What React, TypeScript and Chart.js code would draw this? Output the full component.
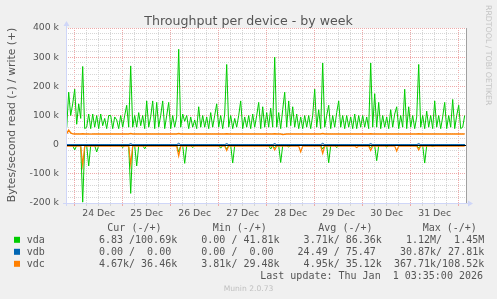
import { useEffect, useRef } from 'react';
import { Chart, registerables } from 'chart.js';

Chart.register(...registerables);

// ---- time axis (hours from 24 Dec 00:00) ----
const START_HOUR = -4;
const STEP_HOURS = 1;
const X_MIN = -4.35;
const X_MAX = 195.65;
const DAY_LABELS = ['24 Dec', '25 Dec', '26 Dec', '27 Dec', '28 Dec', '29 Dec', '30 Dec', '31 Dec'];

// ---- y axis (bytes/second) ----
const Y_MIN = -200000;
const Y_MAX = 400000;

// ---- series values, in kB/s, one per hour ----
const vdaWrite = [
  58, 180, 100, 140,
  190, 70, 140, 90, 268, 55, 60, 105, 55, 105, 60, 100, 55, 105, 65, 90, 55, 100, 100, 55, 95, 85, 55, 100,
  60, 100, 135, 60, 270, 60, 100, 60, 110, 65, 100, 55, 150, 60, 95, 150, 55, 145, 60, 100, 150, 55, 100, 145,
  55, 100, 60, 95, 327, 60, 105, 80, 100, 55, 95, 60, 85, 55, 130, 60, 100, 60, 95, 55, 110, 60, 100, 140,
  60, 100, 55, 105, 275, 60, 100, 55, 90, 60, 100, 150, 55, 95, 60, 100, 55, 105, 60, 100, 145, 55, 130, 60,
  110, 60, 125, 60, 300, 60, 110, 55, 120, 180, 60, 150, 65, 130, 60, 105, 55, 95, 55, 100, 60, 100, 55, 100,
  190, 60, 120, 55, 280, 60, 100, 135, 55, 100, 60, 110, 150, 60, 100, 55, 100, 60, 95, 55, 105, 55, 100, 60,
  100, 60, 95, 55, 280, 60, 175, 60, 145, 55, 100, 60, 95, 55, 120, 60, 105, 130, 55, 100, 60, 190, 55, 130,
  60, 100, 55, 95, 275, 60, 100, 55, 115, 60, 100, 55, 150, 60, 100, 55, 95, 145, 55, 100, 60, 155, 55, 100, 135, 55, 60, 100,
];
const vdaRead = [
  3, 3, 3, 3,
  18, 3, 3, 3, 197, 3, 3, 73, 3, 3, 3, 25, 3, 3, 3, 3, 3, 3, 3, 3, 3, 3, 3, 3,
  10, 3, 3, 3, 167, 3, 3, 73, 3, 3, 3, 14, 3, 3, 3, 3, 3, 3, 3, 3, 3, 3, 3, 3,
  3, 3, 3, 3, 25, 3, 3, 64, 3, 3, 3, 10, 3, 3, 3, 3, 3, 3, 3, 3, 3, 3, 3, 3,
  3, 12, 3, 3, 15, 3, 3, 63, 3, 3, 3, 3, 3, 3, 3, 3, 3, 3, 3, 3, 3, 3, 3, 3,
  3, 3, 15, 3, 10, 3, 3, 61, 3, 3, 3, 8, 3, 3, 3, 3, 3, 3, 3, 3, 3, 3, 3, 3,
  3, 3, 3, 3, 15, 3, 3, 62, 3, 3, 3, 10, 3, 3, 3, 3, 3, 3, 3, 3, 3, 3, 3, 3,
  3, 3, 3, 3, 10, 3, 3, 55, 3, 3, 3, 3, 8, 3, 3, 3, 3, 3, 3, 3, 3, 3, 3, 3,
  3, 3, 3, 3, 12, 3, 3, 63, 3, 3, 3, 6, 3, 3, 3, 3, 3, 3, 3, 3, 3, 3, 3, 3, 3, 3, 3, 0,
];
const vdbWrite = [
  0, 0, 0, 0,
  0, 0, 0, 0, 0, 0, 0, 0, 0, 0, 0, 0, 0, 0, 0, 0, 0, 0, 0, 0, 0, 0, 0, 0,
  0, 0, 0, 0, 4, 0, 0, 0, 0, 0, 0, 0, 0, 0, 0, 0, 0, 0, 0, 0, 0, 0, 0, 0,
  0, 0, 0, 0, 5, 0, 0, 0, 0, 0, 0, 0, 0, 0, 0, 0, 0, 0, 0, 0, 0, 0, 0, 0,
  0, 0, 0, 0, 4, 0, 0, 0, 0, 0, 0, 0, 0, 0, 0, 0, 0, 0, 0, 0, 0, 0, 0, 0,
  0, 0, 0, 0, 4, 0, 0, 0, 0, 0, 0, 0, 0, 0, 0, 0, 0, 0, 0, 0, 0, 0, 0, 0,
  0, 0, 0, 0, 5, 0, 0, 0, 0, 0, 0, 0, 0, 0, 0, 0, 0, 0, 0, 0, 0, 0, 0, 0,
  0, 0, 0, 0, 4, 0, 0, 0, 0, 0, 0, 0, 0, 0, 0, 0, 0, 0, 0, 0, 0, 0, 0, 0,
  0, 0, 0, 0, 4, 0, 0, 0, 0, 0, 0, 0, 0, 0, 0, 0, 0, 0, 0, 0, 0, 0, 0, 0, 0, 0, 0, 0,
];
const vdbRead = [
  0, 0, 0, 0,
  0, 0, 0, 0, 0, 0, 0, 0, 0, 0, 0, 0, 0, 0, 0, 0, 0, 0, 0, 0, 0, 0, 0, 0,
  0, 0, 0, 0, 2, 0, 0, 0, 0, 0, 0, 0, 0, 0, 0, 0, 0, 0, 0, 0, 0, 0, 0, 0,
  0, 0, 0, 0, 2, 0, 0, 0, 0, 0, 0, 0, 0, 0, 0, 0, 0, 0, 0, 0, 0, 0, 0, 0,
  0, 0, 0, 0, 2, 0, 0, 0, 0, 0, 0, 0, 0, 0, 0, 0, 0, 0, 0, 0, 0, 0, 0, 0,
  0, 0, 0, 0, 2, 0, 0, 0, 0, 0, 0, 0, 0, 0, 0, 0, 0, 0, 0, 0, 0, 0, 0, 0,
  0, 0, 0, 0, 2, 0, 0, 0, 0, 0, 0, 0, 0, 0, 0, 0, 0, 0, 0, 0, 0, 0, 0, 0,
  0, 0, 0, 0, 2, 0, 0, 0, 0, 0, 0, 0, 0, 0, 0, 0, 0, 0, 0, 0, 0, 0, 0, 0,
  0, 0, 0, 0, 2, 0, 0, 0, 0, 0, 0, 0, 0, 0, 0, 0, 0, 0, 0, 0, 0, 0, 0, 0, 0, 0, 0, 0,
];
const vdcWrite = [
  38, 50, 40, 37,
  36.5, 36.5, 37, 36.5, 37.5, 36.5, 36.5, 36.5, 36, 36.5, 36.5, 37, 36.5, 36.5, 36.5, 36.5, 37, 36.5, 36.5, 36.5, 36.5, 36.5, 36.5, 36.5,
  36.5, 36.5, 36.5, 36.5, 38, 36.5, 36.5, 36.5, 36.5, 36.5, 37, 36.5, 36.5, 36.5, 36.5, 36.5, 36.5, 36.5, 36.5, 37, 36.5, 36.5, 36.5, 36.5,
  36.5, 36.5, 36.5, 36.5, 38, 36.5, 36.5, 36.5, 36.5, 36.5, 36.5, 36.5, 36.5, 37, 36.5, 36.5, 36.5, 36.5, 36.5, 36.5, 36.5, 36.5, 36.5, 36.5,
  36.5, 36.5, 36.5, 36.5, 37.5, 36.5, 36.5, 36.5, 36.5, 36.5, 36.5, 36.5, 36.5, 36.5, 36.5, 36.5, 36.5, 36.5, 36.5, 36.5, 36.5, 36.5, 36.5, 36.5,
  36.5, 36.5, 36.5, 36.5, 37.5, 36.5, 36.5, 36.5, 35, 35.5, 36.5, 36.5, 36.5, 36.5, 36.5, 36.5, 36.5, 36.5, 36.5, 36.5, 36.5, 36.5, 36.5, 36.5,
  36.5, 36.5, 36.5, 36.5, 38, 36.5, 36.5, 36.5, 36.5, 36.5, 36.5, 36.5, 36.5, 36.5, 36.5, 36.5, 36.5, 36.5, 36.5, 36.5, 36.5, 36.5, 36.5, 36.5,
  36.5, 36.5, 36.5, 36.5, 37.5, 36.5, 36.5, 36.5, 36.5, 36.5, 36.5, 36.5, 36.5, 36.5, 36.5, 36.5, 36.5, 36.5, 36.5, 36.5, 36.5, 36.5, 36.5, 36.5,
  36.5, 36.5, 36.5, 36.5, 37.5, 36.5, 36.5, 36.5, 36.5, 36.5, 36.5, 36.5, 36.5, 36.5, 36.5, 36.5, 36.5, 36.5, 36.5, 36.5, 36.5, 36.5, 36.5, 36.5, 36.5, 36.5, 36.5, 36.5,
];
const vdcRead = [
  4.7, 4.7, 4.7, 4.7,
  4.7, 4.7, 4.7, 4.7, 70, 4.7, 4.7, 4.7, 4.7, 4.7, 4.7, 4.7, 4.7, 4.7, 4.7, 4.7, 4.7, 4.7, 4.7, 4.7, 4.7, 4.7, 4.7, 4.7,
  4.7, 4.7, 4.7, 4.7, 67, 4.7, 4.7, 4.7, 4.7, 4.7, 4.7, 4.7, 4.7, 4.7, 4.7, 4.7, 4.7, 4.7, 4.7, 4.7, 4.7, 4.7, 4.7, 4.7,
  4.7, 4.7, 4.7, 4.7, 39, 4.7, 4.7, 4.7, 4.7, 4.7, 4.7, 4.7, 4.7, 4.7, 4.7, 4.7, 4.7, 4.7, 4.7, 4.7, 4.7, 4.7, 4.7, 4.7,
  4.7, 4.7, 4.7, 4.7, 20, 4.7, 4.7, 4.7, 4.7, 4.7, 4.7, 4.7, 4.7, 4.7, 4.7, 4.7, 4.7, 4.7, 4.7, 4.7, 4.7, 4.7, 4.7, 4.7,
  4.7, 4.7, 4.7, 4.7, 18, 4.7, 4.7, 4.7, 4.7, 4.7, 4.7, 4.7, 4.7, 4.7, 4.7, 4.7, 4.7, 25, 4.7, 4.7, 4.7, 4.7, 4.7, 4.7,
  4.7, 4.7, 4.7, 4.7, 30, 4.7, 4.7, 4.7, 4.7, 4.7, 4.7, 4.7, 4.7, 4.7, 4.7, 4.7, 4.7, 4.7, 4.7, 4.7, 4.7, 10, 4.7, 4.7,
  4.7, 4.7, 4.7, 4.7, 20, 4.7, 4.7, 4.7, 4.7, 4.7, 4.7, 4.7, 4.7, 4.7, 4.7, 4.7, 4.7, 22, 4.7, 4.7, 4.7, 4.7, 4.7, 4.7,
  4.7, 4.7, 4.7, 4.7, 18, 4.7, 4.7, 4.7, 4.7, 4.7, 4.7, 4.7, 4.7, 4.7, 4.7, 4.7, 4.7, 4.7, 4.7, 4.7, 4.7, 4.7, 4.7, 4.7, 4.7, 4.7, 4.7, 4.7,
];

// ---- legend table ----
const SERIES_NAMES = ['vda', 'vdb', 'vdc'];
const SERIES_COLORS = ['#00CC00', '#0066B3', '#FF8000'];
const LEGEND_HEADERS = ['Cur (-/+)', 'Min (-/+)', 'Avg (-/+)', 'Max (-/+)'];
const CUR_VALUES = ['6.83 /100.69k', '0.00 /  0.00', '4.67k/ 36.46k'];
const MIN_VALUES = ['0.00 / 41.81k', '0.00 /  0.00', '3.81k/ 29.48k'];
const AVG_VALUES = ['3.71k/ 86.36k', '24.49 / 75.47', '4.95k/ 35.12k'];
const MAX_VALUES = ['1.12M/  1.45M', '30.87k/ 27.81k', '367.71k/108.52k'];
const TITLE = 'Throughput per device - by week';
const Y_TITLE = 'Bytes/second read (-) / write (+)';
const LAST_UPDATE = 'Last update: Thu Jan  1 03:35:00 2026';
const FOOTER = 'Munin 2.0.73';
const WATERMARK = 'RRDTOOL / TOBI OETIKER';

const toPoints = (arr: number[], sign: number) =>
  arr.map((v, i) => ({ x: START_HOUR + i * STEP_HOURS, y: sign * v * 1000 }));

const MAJOR = '#eeaaaa';
const MINOR = '#d6d6d6';
const AXIS = '#CFD6F8';
const FONT_COLOR = '#555555';
const SANS = '"DejaVu Sans", sans-serif';
const MONO = '"DejaVu Sans Mono", monospace';

const muninPlugin = {
  id: 'munin',
  beforeDraw(chart: any) {
    const { ctx, chartArea: a } = chart;
    ctx.save();
    ctx.fillStyle = '#F0F0F0';
    ctx.fillRect(0, 0, chart.width, chart.height);
    ctx.fillStyle = '#FFFFFF';
    ctx.fillRect(a.left, a.top, a.right - a.left, a.bottom - a.top);
    ctx.restore();
  },
  afterDatasetsDraw(chart: any) {
    const { ctx, chartArea: a } = chart;
    const y = chart.scales.y;
    ctx.save();
    // zero rule
    const y0 = Math.round(y.getPixelForValue(0)) + 0.5;
    ctx.strokeStyle = '#000000';
    ctx.lineWidth = 1;
    ctx.beginPath();
    ctx.moveTo(a.left, y0);
    ctx.lineTo(a.right, y0);
    ctx.stroke();
    // right edge marker
    ctx.strokeStyle = '#a0a0a0';
    ctx.beginPath();
    ctx.moveTo(a.right + 0.5, a.top);
    ctx.lineTo(a.right + 0.5, a.bottom);
    ctx.stroke();
    // axes
    ctx.strokeStyle = AXIS;
    ctx.fillStyle = AXIS;
    const ax = a.left + 0.5;
    const ay = a.bottom + 0.5;
    ctx.beginPath();
    ctx.moveTo(ax, a.bottom + 3);
    ctx.lineTo(ax, a.top - 5);
    ctx.moveTo(a.left - 3, ay);
    ctx.lineTo(a.right + 3, ay);
    ctx.stroke();
    ctx.beginPath();
    ctx.moveTo(ax - 3, a.top - 2);
    ctx.lineTo(ax + 3, a.top - 2);
    ctx.lineTo(ax, a.top - 7);
    ctx.closePath();
    ctx.fill();
    ctx.beginPath();
    ctx.moveTo(a.right + 2, ay - 3);
    ctx.lineTo(a.right + 2, ay + 3);
    ctx.lineTo(a.right + 7, ay);
    ctx.closePath();
    ctx.fill();
    ctx.restore();
  },
  afterDraw(chart: any) {
    const { ctx } = chart;
    ctx.save();
    ctx.fillStyle = FONT_COLOR;
    // title
    ctx.font = `12.6px ${SANS}`;
    ctx.textAlign = 'center';
    ctx.textBaseline = 'alphabetic';
    ctx.fillText(TITLE, 248.5, 24.5);
    // y title
    ctx.save();
    ctx.translate(15, 115);
    ctx.rotate(-Math.PI / 2);
    ctx.font = `10.8px ${SANS}`;
    ctx.fillText(Y_TITLE, 0, 0);
    ctx.restore();
    // watermark
    ctx.save();
    ctx.fillStyle = '#c4c4c4';
    ctx.translate(485.5, 5);
    ctx.rotate(Math.PI / 2);
    ctx.font = `7.8px ${SANS}`;
    ctx.textAlign = 'left';
    ctx.fillText(WATERMARK, 0, 0);
    ctx.restore();
    // legend
    ctx.font = `10px ${MONO}`;
    ctx.textAlign = 'left';
    const headerX = [107.3, 212.7, 318.3, 422.7];
    LEGEND_HEADERS.forEach((h, i) => ctx.fillText(h, headerX[i], 231));
    const rowY = [243.3, 255.3, 267.3];
    const cw = 6.02;
    const nameX = 26.7;
    SERIES_NAMES.forEach((name, i) => {
      const by = rowY[i];
      ctx.fillStyle = SERIES_COLORS[i];
      ctx.fillRect(14, by - 6.5, 6, 6);
      ctx.fillStyle = FONT_COLOR;
      ctx.fillText(name, nameX, by);
      ctx.fillText(CUR_VALUES[i], nameX + 12 * cw, by);
      ctx.fillText(MIN_VALUES[i], nameX + 29 * cw, by);
      const avgCol = i === 1 ? 45 : 46;
      ctx.fillText(AVG_VALUES[i], nameX + avgCol * cw, by);
      const maxCol = 76 - MAX_VALUES[i].length;
      ctx.fillText(MAX_VALUES[i], nameX + maxCol * cw, by);
    });
    ctx.textAlign = 'right';
    ctx.fillText(LAST_UPDATE, 483, 279);
    // footer
    ctx.fillStyle = '#c0c0c0';
    ctx.font = `7.6px ${SANS}`;
    ctx.textAlign = 'center';
    ctx.fillText(FOOTER, 248.5, 291);
    ctx.restore();
  },
};

export default function App() {
  const ref = useRef<HTMLCanvasElement | null>(null);
  useEffect(() => {
    document.body.style.margin = '0';
    const canvas = ref.current;
    if (!canvas) return;
    const line = (data: any[], color: string, width = 1) => ({
      data,
      borderColor: color,
      backgroundColor: color,
      borderWidth: width,
      pointRadius: 0,
      tension: 0,
      fill: false,
    });
    const chart = new Chart(canvas, {
      type: 'line',
      data: {
        datasets: [
          line(toPoints(vdcWrite, 1), SERIES_COLORS[2], 1.4),
          line(toPoints(vdcRead, -1), SERIES_COLORS[2], 1.2),
          line(toPoints(vdbWrite, 1), SERIES_COLORS[1]),
          line(toPoints(vdbRead, -1), SERIES_COLORS[1]),
          line(toPoints(vdaWrite, 1), SERIES_COLORS[0]),
          line(toPoints(vdaRead, -1), SERIES_COLORS[0]),
        ],
      },
      options: {
        responsive: false,
        animation: false,
        devicePixelRatio: 1,
        layout: { padding: { left: 0, top: 28, right: 31, bottom: 76 } },
        plugins: { legend: { display: false }, tooltip: { enabled: false }, title: { display: false } },
        scales: {
          x: {
            type: 'linear',
            min: X_MIN,
            max: X_MAX,
            afterFit: (s: any) => { s.height = 20; },
            border: { display: false, dash: [1, 1] },
            grid: {
              color: (c: any) => (c.tick && c.tick.value % 24 === 0 ? MAJOR : MINOR),
              drawTicks: true,
              tickLength: 3,
            },
            ticks: {
              stepSize: 6,
              includeBounds: false,
              autoSkip: false,
              maxRotation: 0,
              padding: 2,
              color: FONT_COLOR,
              font: { family: SANS, size: 9.3 },
              callback: (v: any) => {
                const n = Number(v);
                return n % 24 === 12 ? DAY_LABELS[(n - 12) / 24] ?? '' : '';
              },
            },
          },
          y: {
            min: Y_MIN,
            max: Y_MAX,
            afterFit: (s: any) => { s.width = 66; },
            border: { display: false, dash: [1, 1] },
            grid: {
              color: (c: any) => (c.tick && c.tick.value % 100000 === 0 ? MAJOR : MINOR),
              drawTicks: false,
            },
            ticks: {
              stepSize: 20000,
              autoSkip: false,
              padding: 7,
              color: FONT_COLOR,
              font: { family: SANS, size: 9.3 },
              callback: (v: any) => {
                const n = Number(v);
                if (n % 100000 !== 0) return '';
                return n === 0 ? '0' : `${n / 1000} k`;
              },
            },
          },
        },
      },
      plugins: [muninPlugin],
    });
    return () => chart.destroy();
  }, []);
  return <canvas ref={ref} width={497} height={299} style={{ display: 'block' }} />;
}
